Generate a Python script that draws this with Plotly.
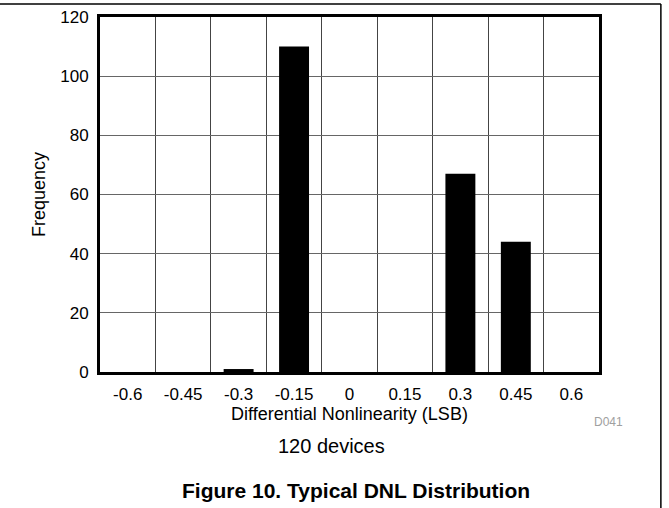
import plotly.graph_objects as go

# DNL histogram bins (LSB) and device counts
dnl_bins = ['-0.6', '-0.45', '-0.3', '-0.15', '0', '0.15', '0.3', '0.45', '0.6']
frequency = [0, 0, 1, 110, 0, 0, 67, 44, 0]

FONT = 'Liberation Sans, Arial, sans-serif'

fig = go.Figure(
    data=[
        go.Bar(
            x=dnl_bins,
            y=frequency,
            marker=dict(color='black', line=dict(width=0)),
            showlegend=False
        )
    ]
)

fig.update_layout(
    width=669,
    height=508,
    margin=dict(l=100, r=70, t=17, b=136),
    paper_bgcolor='white',
    plot_bgcolor='white',
    bargap=0.46,
    font=dict(family=FONT, size=17, color='black'),
)

fig.update_xaxes(
    type='category',
    tickson='boundaries',
    showgrid=True,
    gridcolor='#444444',
    gridwidth=1,
    showline=True,
    linecolor='black',
    linewidth=3,
    mirror=True,
    ticks='',
    ticklabelstandoff=5,
    tickfont=dict(size=17),
    automargin=False,
    title=dict(text='Differential Nonlinearity (LSB)', font=dict(size=18), standoff=0),
)
fig.update_yaxes(
    range=[0, 120],
    dtick=20,
    showgrid=True,
    gridcolor='#666666',
    gridwidth=1,
    zeroline=False,
    showline=True,
    linecolor='black',
    linewidth=3,
    mirror=True,
    ticks='',
    ticklabelstandoff=5,
    tickfont=dict(size=17),
    automargin=False,
    title=dict(text='Frequency', font=dict(size=18), standoff=10),
)

# outer figure frame (top and right edges)
fig.add_shape(type='line', xref='paper', yref='paper',
              x0=-0.21, x1=1.124, y0=1.0366, y1=1.0366,
              line=dict(color='black', width=1.5))
fig.add_shape(type='line', xref='paper', yref='paper',
              x0=1.124, x1=1.124, y0=1.0366, y1=-0.4,
              line=dict(color='black', width=1.5))

fig.add_annotation(text='D041', xref='paper', yref='paper',
                   x=1.02, y=-0.142, xanchor='center', yanchor='middle',
                   showarrow=False, font=dict(size=12, color='#a0a0a0'))
fig.add_annotation(text='120 devices', xref='paper', yref='paper',
                   x=0.464, y=-0.2085, xanchor='center', yanchor='middle',
                   showarrow=False, font=dict(size=20))
fig.add_annotation(text='<b>Figure 10. Typical DNL Distribution</b>', xref='paper', yref='paper',
                   x=0.514, y=-0.335, xanchor='center', yanchor='middle',
                   showarrow=False, font=dict(size=21))

fig.write_html('out.html', config={'displayModeBar': False},
               post_script="document.body.style.margin='0';")
